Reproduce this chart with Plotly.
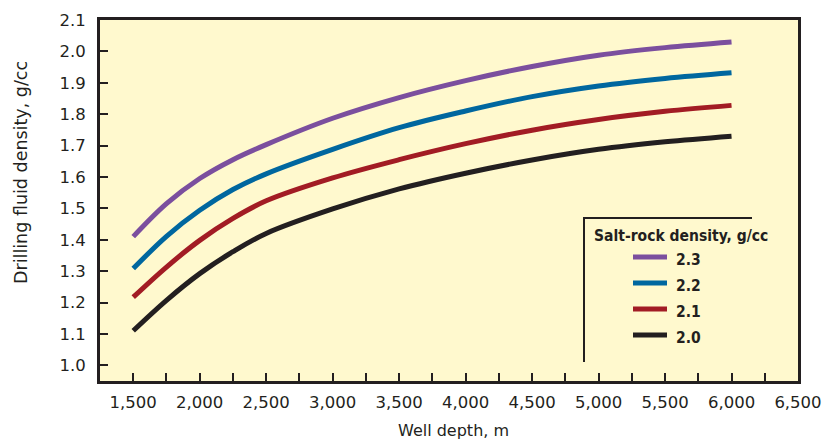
import plotly.graph_objects as go

# ---- data ----
depth_m = [1500, 1750, 2000, 2250, 2500, 3000, 3500, 4000, 4500, 5000, 5500, 6000]
rho_salt_23 = [1.410, 1.515, 1.595, 1.655, 1.703, 1.787, 1.853, 1.907, 1.952, 1.988, 2.012, 2.030]
rho_salt_22 = [1.308, 1.411, 1.494, 1.560, 1.610, 1.688, 1.757, 1.810, 1.856, 1.890, 1.914, 1.932]
rho_salt_21 = [1.217, 1.313, 1.398, 1.468, 1.524, 1.597, 1.655, 1.706, 1.749, 1.783, 1.809, 1.828]
rho_salt_20 = [1.110, 1.207, 1.292, 1.362, 1.420, 1.498, 1.562, 1.612, 1.654, 1.688, 1.712, 1.730]

series_names = ["2.3", "2.2", "2.1", "2.0"]
series_values = [rho_salt_23, rho_salt_22, rho_salt_21, rho_salt_20]
series_colors = ["#7B4F9E", "#00679F", "#A21C24", "#231F20"]

x_tickvals = [1500, 2000, 2500, 3000, 3500, 4000, 4500, 5000, 5500, 6000, 6500]
y_tickvals = [1.0, 1.1, 1.2, 1.3, 1.4, 1.5, 1.6, 1.7, 1.8, 1.9, 2.0, 2.1]

legend_title = "Salt-rock density, g/cc"
x_title = "Well depth, m"
y_title = "Drilling fluid density, g/cc"

# ---- layout geometry (pixels) ----
W, H = 822, 439
L, R, T, B = 100, 798, 20, 381


def px(x):
    return (x - L) / (R - L)


def py(y):
    return (B - y) / (B - T)


INK = "#231F20"
fig = go.Figure()
for name, vals, col in zip(series_names, series_values, series_colors):
    fig.add_trace(go.Scatter(x=depth_m, y=vals, mode="lines", name=name,
                             line=dict(color=col, width=5, shape="spline", smoothing=1.0),
                             showlegend=False))

tick_font = dict(family="DejaVu Sans", size=16.5, color=INK)
fig.update_xaxes(range=[1250, 6500], tickvals=x_tickvals, tickformat=",",
                 ticks="inside", ticklen=8, tickwidth=2, tickcolor=INK,
                 minor=dict(dtick=250, tick0=1250, ticks="inside", ticklen=8, tickwidth=2, tickcolor=INK),
                 showline=True, linewidth=3, linecolor=INK, mirror=True, automargin=False,
                 showgrid=False, zeroline=False, tickfont=tick_font, ticklabelstandoff=4)
fig.update_yaxes(range=[0.95, 2.1], tickvals=y_tickvals, tickformat=".1f",
                 ticks="inside", ticklen=8, tickwidth=2, tickcolor=INK,
                 showline=True, linewidth=3, linecolor=INK, mirror=True, automargin=False,
                 showgrid=False, zeroline=False, tickfont=tick_font, ticklabelstandoff=8)

shapes = []
annotations = []
# legend frame (top + left rule)
shapes.append(dict(type="line", xref="paper", yref="paper", x0=px(583), x1=px(752), y0=py(218), y1=py(218),
                   line=dict(color=INK, width=2)))
shapes.append(dict(type="line", xref="paper", yref="paper", x0=px(584), x1=px(584), y0=py(217), y1=py(362),
                   line=dict(color=INK, width=2)))
annotations.append(dict(xref="paper", yref="paper", x=px(592), y=py(236), text="<b>" + legend_title + "</b>",
                        showarrow=False, xanchor="left", yanchor="middle",
                        font=dict(family="Liberation Sans Narrow, DejaVu Sans Condensed", size=15.5, color=INK)))
sw_y = [257, 283, 309, 335]
for name, col, yy in zip(series_names, series_colors, sw_y):
    shapes.append(dict(type="line", xref="paper", yref="paper", x0=px(633), x1=px(667), y0=py(yy), y1=py(yy),
                       line=dict(color=col, width=5)))
    annotations.append(dict(xref="paper", yref="paper", x=px(674), y=py(yy + 3), text="<b>" + name + "</b>",
                            showarrow=False, xanchor="left", yanchor="middle",
                            font=dict(family="Liberation Sans Narrow, DejaVu Sans Condensed", size=15.5, color=INK)))

annotations.append(dict(xref="paper", yref="paper", x=px(453), y=py(430), text=x_title, showarrow=False,
                        xanchor="center", yanchor="middle", font=dict(family="DejaVu Sans", size=16, color=INK)))
annotations.append(dict(xref="paper", yref="paper", x=px(21), y=py(173), text=y_title, showarrow=False,
                        textangle=-90, xanchor="center", yanchor="middle",
                        font=dict(family="DejaVu Sans", size=17.5, color=INK)))

fig.update_layout(width=W, height=H, margin=dict(l=L, r=W - R, t=T, b=H - B, pad=0),
                  plot_bgcolor="#FFF9CE", paper_bgcolor="#FFFFFF",
                  shapes=shapes, annotations=annotations, showlegend=False)

fig.write_html("out.html")
